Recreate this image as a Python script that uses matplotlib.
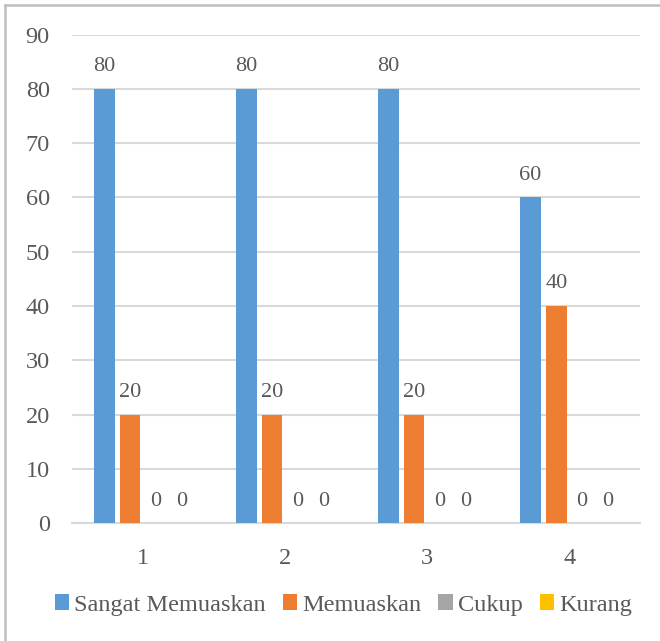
import matplotlib.pyplot as plt
import numpy as np
from matplotlib.lines import Line2D

# data
categories = ['1', '2', '3', '4']
series_names = ['Sangat Memuaskan', 'Memuaskan', 'Cukup', 'Kurang']
sangat_memuaskan = [80, 80, 80, 60]
memuaskan = [20, 20, 20, 40]
cukup = [0, 0, 0, 0]
kurang = [0, 0, 0, 0]
colors = ['#5b9bd5', '#ed7d31', '#a5a5a5', '#ffc000']

plt.rcParams['font.family'] = ['Liberation Serif', 'DejaVu Serif']
txt = '#595959'

fig = plt.figure(figsize=(6.6, 6.41), dpi=100)
ax = fig.add_axes([0.109, 0.184, 0.861, 0.762])

x = np.arange(len(categories))
w = 0.144
step = 0.181
all_series = [sangat_memuaskan, memuaskan, cukup, kurang]
for i, vals in enumerate(all_series):
    pos = x + (i - 1.5) * step
    bars = ax.bar(pos, vals, width=w, color=colors[i], label=series_names[i], zorder=3)
    for b, v in zip(bars, vals):
        ax.annotate(str(v), (b.get_x() + b.get_width() / 2, v), xytext=(0, 9),
                    textcoords='offset points', ha='center', va='bottom',
                    fontsize=16, color=txt)

ax.set_ylim(0, 90)
ax.set_yticks(range(0, 91, 10))
ax.set_xlim(-0.5, 3.5)
ax.set_xticks(x)
ax.set_xticklabels(categories)
ax.grid(axis='y', color='#d9d9d9', linewidth=1.5, zorder=0)
for s in ['top', 'right', 'left']:
    ax.spines[s].set_visible(False)
ax.spines['bottom'].set_color('#d9d9d9')
ax.spines['bottom'].set_linewidth(1.5)
ax.tick_params(axis='both', length=0, labelsize=17.5, colors=txt)
ax.tick_params(axis='y', pad=16)
ax.tick_params(axis='x', pad=18)

fig.legend(loc='center', bbox_to_anchor=(0.52, 0.056), ncol=4, frameon=False,
           fontsize=17.5, labelcolor=txt, handlelength=0.6, handleheight=0.6,
           handletextpad=0.2, columnspacing=0.7)

# chart border
fig.add_artist(Line2D([5 / 660, 5 / 660], [0, 1 - 5 / 641], color='#bfbfbf', lw=1.8))
fig.add_artist(Line2D([5 / 660, 1], [1 - 5 / 641, 1 - 5 / 641], color='#bfbfbf', lw=1.8))

fig.savefig('out.png', dpi=100)
